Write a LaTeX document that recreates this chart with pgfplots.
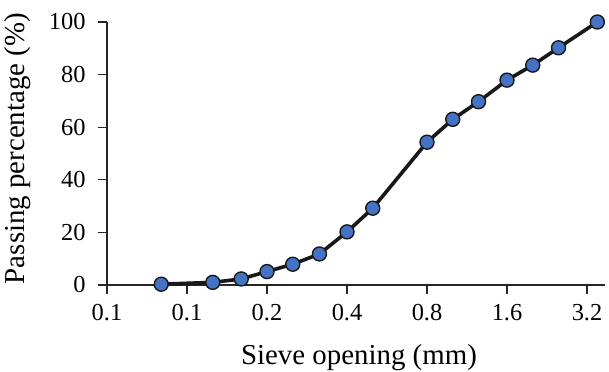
\documentclass[border=0pt]{standalone}
\usepackage{fontspec}
\setmainfont{Liberation Serif}
\usepackage{pgfplots}
\pgfplotsset{compat=1.18}
\definecolor{markblue}{HTML}{4472C4}
\begin{document}
\begin{tikzpicture}
\begin{axis}[
 name=main,
 scale only axis, width=498bp, height=263bp,
 xmode=log, log basis x=2, xmin=0.05, xmax=3.74, ymin=0, ymax=100,
 axis x line=bottom, axis y line=left,
 axis line style={-, line width=1.2bp, black!85},
 xtick={0.05,0.1,0.2,0.4,0.8,1.6,3.2},
 xticklabels={0.1,0.1,0.2,0.4,0.8,1.6,3.2},
 ytick={0,20,40,60,80,100},
 minor tick num=0,
 tick align=outside, major tick length=9bp,
 tick style={line width=1.2bp, black!85},
 ticklabel style={font=\fontsize{24.5}{26}\selectfont},
 yticklabel style={xshift=-9bp},
 xticklabel style={yshift=-7bp},
 label style={font=\fontsize{29}{31}\selectfont},
 xlabel style={at={(axis description cs:0.506,-0.3004)}, anchor=base},
 ylabel style={at={(axis description cs:-0.1647,0.519)}, anchor=base},
 /pgf/number format/assume math mode=true,
 xlabel={Sieve opening (mm)},
 ylabel={Passing percentage (\%)},
 clip=false,
]
\addplot[line width=3.6bp, black!90, mark=*, mark size=7bp,
  mark options={fill=markblue, draw=black!90, line width=1.4bp}]
  coordinates {
  (0.08,0.3) (0.125,1.0) (0.16,2.3) (0.2,5.1) (0.25,7.9) (0.315,11.8)
  (0.4,20.2) (0.5,29.2) (0.8,54.3) (1.0,63.0) (1.25,69.7) (1.6,77.9)
  (2.0,83.6) (2.5,90.2) (3.5,100)
  };
\end{axis}
\pgfresetboundingbox
\path[use as bounding box] ([xshift=-107bp,yshift=-87bp]main.south west) rectangle ([xshift=4bp,yshift=22bp]main.north east);
\end{tikzpicture}
\end{document}
